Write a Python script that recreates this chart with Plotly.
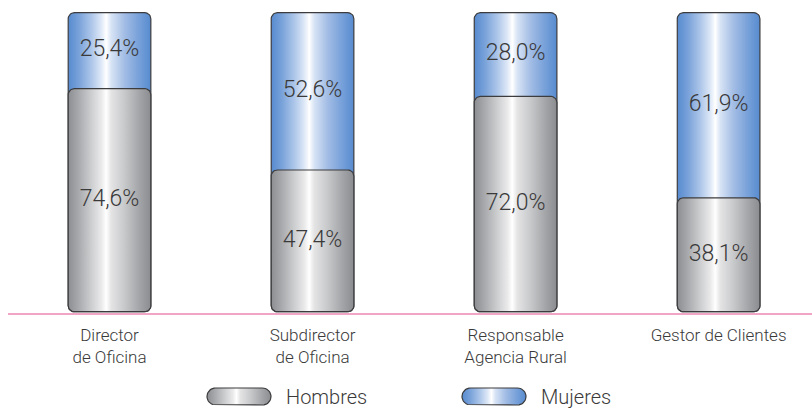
import numpy as np
import plotly.graph_objects as go

# Distribución por sexo de cada puesto (%)
puestos = ["Director de Oficina", "Subdirector de Oficina",
           "Responsable Agencia Rural", "Gestor de Clientes"]
etiquetas_puesto = ["Director<br>de Oficina", "Subdirector<br>de Oficina",
                    "Responsable<br>Agencia Rural", "Gestor de Clientes"]
hombres = [74.6, 47.4, 72.0, 38.1]
mujeres = [25.4, 52.6, 28.0, 61.9]
series = ["Hombres", "Mujeres"]

W, H = 812, 410
TEXT = "#3a3a3a"
OUTLINE = "#3c3c3e"
FONT = "Roboto, Lato, sans-serif"

grad_gris = [[0.0, "#8d8e91"], [0.12, "#a7a8ab"], [0.28, "#cdced0"],
             [0.40, "#e9e9ea"], [0.46, "#ffffff"], [0.52, "#e4e4e5"],
             [0.68, "#c8c9cb"], [0.86, "#a4a5a8"], [1.0, "#8b8c90"]]
grad_azul = [[0.0, "#578bcf"], [0.12, "#76a0d9"], [0.28, "#adc6e9"],
             [0.40, "#dde8f7"], [0.46, "#ffffff"], [0.52, "#d8e4f5"],
             [0.68, "#a3bde5"], [0.86, "#76a0d9"], [1.0, "#578bcf"]]

# axis scale (pixels per data unit) used to keep corners circular
X_RANGE = [-0.5, 3.46]
Y_RANGE = [-0.43, 104.25]
x_dom = [8 / W, 1.0]
y_dom = [97 / H, 1.0]
px_x = (x_dom[1] - x_dom[0]) * W / (X_RANGE[1] - X_RANGE[0])
px_y = (y_dom[1] - y_dom[0]) * H / (Y_RANGE[1] - Y_RANGE[0])

BAR_W = 0.407
RADIUS_PX = 6


def rounded_rect(x0, x1, y0, y1, rx, ry, n=10):
    xs, ys = [], []
    for cx, cy, a0 in [(x1 - rx, y0 + ry, -90), (x1 - rx, y1 - ry, 0),
                       (x0 + rx, y1 - ry, 90), (x0 + rx, y0 + ry, 180)]:
        t = np.radians(np.linspace(a0, a0 + 90, n))
        xs.extend(cx + rx * np.cos(t))
        ys.extend(cy + ry * np.sin(t))
    xs.append(xs[0])
    ys.append(ys[0])
    return xs, ys


fig = go.Figure()

rx = RADIUS_PX / px_x
ry = RADIUS_PX / px_y
for i in range(len(puestos)):
    x0, x1 = i - BAR_W / 2, i + BAR_W / 2
    total = hombres[i] + mujeres[i]
    # Mujeres segment sits behind, Hombres drawn on top from the base
    for y0, y1, grad in [(0, total, grad_azul), (0, hombres[i], grad_gris)]:
        xs, ys = rounded_rect(x0, x1, y0, y1, rx, ry)
        fig.add_trace(go.Scatter(
            x=xs, y=ys, mode="lines", fill="toself",
            fillgradient=dict(type="horizontal", colorscale=grad),
            line=dict(color=OUTLINE, width=1.2),
            hoverinfo="skip", showlegend=False))


def fmt(v):
    return f"{v:.1f}".replace(".", ",") + "%"


idx = list(range(len(puestos)))
pct_font = dict(family=FONT, size=23, color=TEXT, weight=300)
fig.add_trace(go.Scatter(
    x=idx, y=[h / 2 for h in hombres], mode="text",
    text=[fmt(v) for v in hombres], textfont=pct_font,
    hoverinfo="skip", showlegend=False))
fig.add_trace(go.Scatter(
    x=idx, y=[h + m / 2 for h, m in zip(hombres, mujeres)], mode="text",
    text=[fmt(v) for v in mujeres], textfont=pct_font,
    hoverinfo="skip", showlegend=False))

# legend: gradient pills with their names, on a full-figure pixel overlay
annotations = []
LEG_Y0, LEG_Y1 = 388, 405
leg_x = [207, 462]
for name, lx, grad in zip(series, leg_x, [grad_gris, grad_azul]):
    r = (LEG_Y1 - LEG_Y0) / 2
    xs, ys = rounded_rect(lx, lx + 64, LEG_Y0, LEG_Y1, r, r)
    fig.add_trace(go.Scatter(
        x=xs, y=ys, xaxis="x2", yaxis="y2", mode="lines", fill="toself",
        fillgradient=dict(type="horizontal", colorscale=grad),
        line=dict(color=OUTLINE, width=1.2),
        hoverinfo="skip", showlegend=False))
    annotations.append(dict(
        x=lx + 77, xref="x2", y=(LEG_Y0 + LEG_Y1) / 2, yref="y2",
        text=name, showarrow=False, xanchor="left", yanchor="middle",
        font=dict(family=FONT, size=20, color=TEXT, weight=300)))

fig.update_layout(
    width=W, height=H,
    margin=dict(l=0, r=0, t=0, b=0),
    paper_bgcolor="white", plot_bgcolor="rgba(0,0,0,0)",
    showlegend=False,
    xaxis=dict(domain=x_dom, range=X_RANGE, showgrid=False, zeroline=False,
               tickmode="array", tickvals=idx, ticktext=etiquetas_puesto,
               tickfont=dict(family=FONT, size=17, color=TEXT, weight=300),
               ticks="", ticklabelstandoff=6, showline=True,
               linecolor="#f2a6c6", linewidth=1.5, fixedrange=True,
               automargin=False),
    yaxis=dict(domain=y_dom, range=Y_RANGE, visible=False, fixedrange=True),
    xaxis2=dict(domain=[0, 1], range=[0, W], visible=False, anchor="y2",
                fixedrange=True),
    yaxis2=dict(domain=[0, 1], range=[H, 0], visible=False, anchor="x2",
                fixedrange=True),
    annotations=annotations,
)

fig.write_html("out.html")
